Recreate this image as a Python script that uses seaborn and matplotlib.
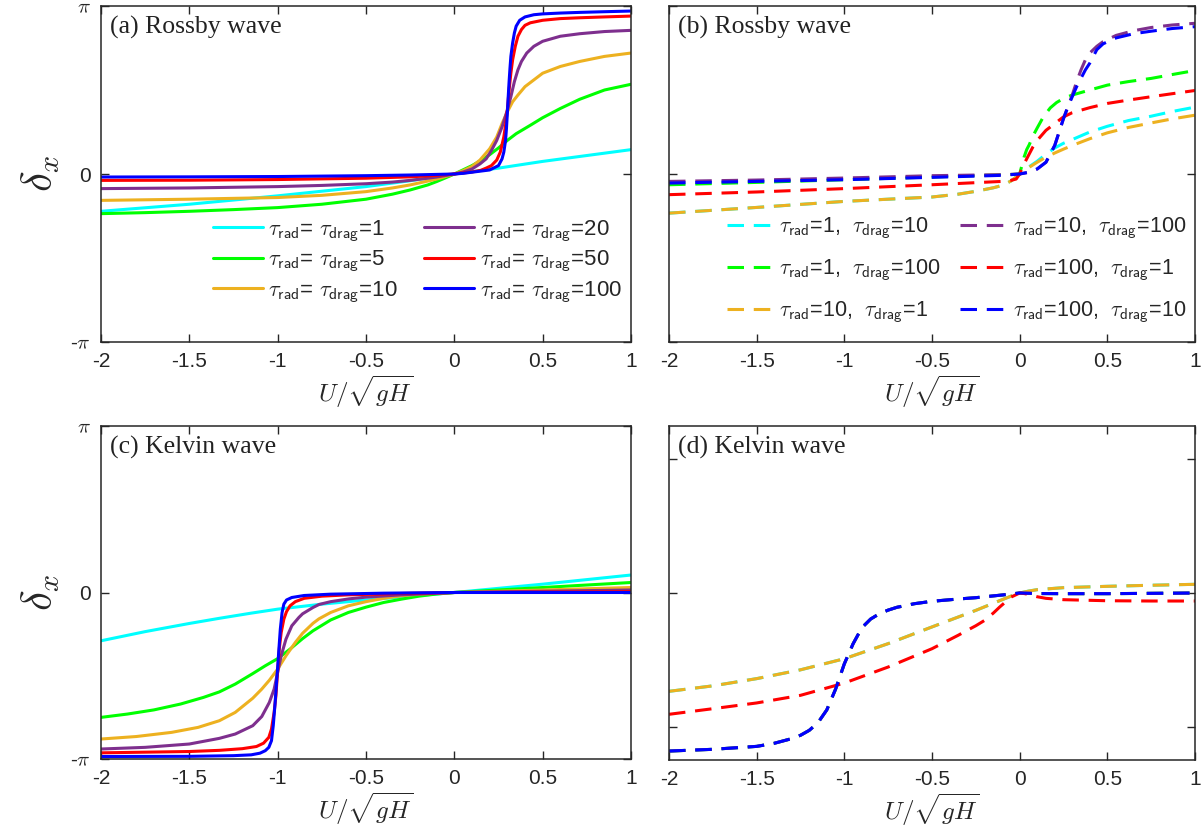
import numpy as np
import matplotlib
matplotlib.use("Agg")
import matplotlib.pyplot as plt
import seaborn as sns

# ---------------- data (phase delta_x in units of pi) ----------------
# Panel (a): Rossby wave, tau_rad = tau_drag
xa_1 = [-2, -1.5, -1, -0.5, -0.25, 0, 0.25, 0.5, 0.75, 1]
ya_1 = [-0.222, -0.18, -0.13, -0.075, -0.04, 0, 0.035, 0.075, 0.11, 0.145]
xa_5 = [-2, -1.75, -1.5, -1.25, -1, -0.75, -0.5, -0.35, -0.25, -0.15, -0.1, -0.05, 0,
        0.05, 0.1, 0.15, 0.2, 0.25, 0.3, 0.35, 0.43, 0.5, 0.6, 0.71, 0.85, 1]
ya_5 = [-0.236, -0.23, -0.222, -0.212, -0.2, -0.18, -0.15, -0.12, -0.095, -0.065, -0.045, -0.023, 0,
        0.025, 0.05, 0.08, 0.115, 0.155, 0.2, 0.24, 0.29, 0.335, 0.39, 0.445, 0.5, 0.534]
xa_10 = [-2, -1.5, -1, -0.75, -0.5, -0.35, -0.25, -0.15, -0.1, -0.05, 0,
         0.05, 0.1, 0.145, 0.2, 0.24, 0.27, 0.3, 0.33, 0.36, 0.4, 0.45, 0.5, 0.6, 0.71, 0.85, 1]
ya_10 = [-0.157, -0.15, -0.14, -0.127, -0.105, -0.083, -0.065, -0.042, -0.03, -0.015, 0,
         0.02, 0.045, 0.083, 0.15, 0.22, 0.3, 0.37, 0.43, 0.47, 0.52, 0.56, 0.6, 0.64, 0.67, 0.70, 0.72]
xa_20 = [-2, -1.5, -1, -0.75, -0.5, -0.35, -0.25, -0.15, -0.1, -0.05, 0,
         0.05, 0.1, 0.145, 0.18, 0.21, 0.24, 0.27, 0.3, 0.32, 0.34, 0.36, 0.38, 0.41, 0.45, 0.5, 0.6, 0.71, 0.85, 1]
ya_20 = [-0.087, -0.083, -0.075, -0.068, -0.058, -0.048, -0.038, -0.025, -0.018, -0.009, 0,
         0.012, 0.03, 0.06, 0.09, 0.14, 0.2, 0.28, 0.38, 0.46, 0.55, 0.62, 0.67, 0.72, 0.76, 0.79, 0.82, 0.835, 0.848, 0.855]
xa_50 = [-2, -1.5, -1, -0.5, -0.25, -0.1, 0, 0.1, 0.15, 0.18, 0.21, 0.24, 0.26, 0.28, 0.29, 0.3,
         0.31, 0.32, 0.33, 0.345, 0.36, 0.38, 0.4, 0.43, 0.5, 0.6, 0.71, 0.85, 1]
ya_50 = [-0.038, -0.037, -0.033, -0.025, -0.017, -0.008, 0, 0.012, 0.022, 0.035, 0.05, 0.083, 0.13, 0.22, 0.29, 0.38,
         0.5, 0.6, 0.68, 0.76, 0.82, 0.86, 0.885, 0.9, 0.915, 0.925, 0.93, 0.935, 0.94]
xa_100 = [-2, -1.5, -1, -0.5, -0.25, 0, 0.05, 0.2, 0.25, 0.27, 0.28, 0.29, 0.295, 0.3, 0.305, 0.31,
          0.315, 0.32, 0.33, 0.34, 0.35, 0.37, 0.4, 0.45, 0.5, 0.6, 0.71, 0.85, 1]
ya_100 = [-0.018, -0.017, -0.015, -0.01, -0.006, 0, 0.004, 0.024, 0.05, 0.09, 0.13, 0.2, 0.27, 0.36, 0.46, 0.55,
          0.63, 0.7, 0.78, 0.84, 0.88, 0.915, 0.935, 0.948, 0.953, 0.958, 0.962, 0.966, 0.97]

# Panel (b): Rossby wave, tau_rad != tau_drag
xb_c = [-2, -1.75, -1.5, -1.25, -1, -0.75, -0.5, -0.35, -0.25, -0.15, -0.1, -0.05, -0.02, 0,
        0.05, 0.1, 0.15, 0.2, 0.25, 0.3, 0.4, 0.5, 0.62, 0.75, 0.87, 1]
yb_c = [-0.233, -0.216, -0.199, -0.181, -0.163, -0.15, -0.137, -0.12, -0.103, -0.082, -0.068, -0.042, -0.018, 0,
        0.04, 0.076, 0.118, 0.155, 0.183, 0.205, 0.25, 0.284, 0.318, 0.344, 0.372, 0.398]
xb_g = [-2, -1.5, -1, -0.5, -0.2, -0.05, 0, 0.01, 0.025, 0.04, 0.055, 0.075, 0.1, 0.135, 0.175, 0.21,
        0.25, 0.3, 0.4, 0.5, 0.62, 0.75, 0.87, 1]
yb_g = [-0.064, -0.05, -0.034, -0.018, -0.008, -0.003, 0, 0.04, 0.1, 0.145, 0.175, 0.225, 0.274, 0.34, 0.394, 0.425,
        0.45, 0.47, 0.5, 0.529, 0.55, 0.569, 0.592, 0.616]
xb_o = [-2, -1.75, -1.5, -1.25, -1, -0.75, -0.5, -0.35, -0.25, -0.15, -0.1, -0.05, -0.02, 0,
        0.05, 0.1, 0.15, 0.2, 0.25, 0.3, 0.4, 0.5, 0.62, 0.75, 0.87, 1]
yb_o = [-0.233, -0.216, -0.199, -0.181, -0.163, -0.15, -0.137, -0.12, -0.103, -0.082, -0.068, -0.042, -0.018, 0,
        0.037, 0.07, 0.1, 0.125, 0.148, 0.17, 0.21, 0.245, 0.277, 0.304, 0.328, 0.35]
xb_p = [-2, -1.5, -1, -0.5, -0.1, 0, 0.05, 0.1, 0.15, 0.2, 0.225, 0.25, 0.275, 0.3, 0.325, 0.35, 0.375,
        0.4, 0.44, 0.476, 0.55, 0.65, 0.75, 0.87, 1]
yb_p = [-0.044, -0.036, -0.024, -0.01, -0.004, 0, 0.01, 0.03, 0.07, 0.17, 0.25, 0.33, 0.4, 0.47, 0.55, 0.62, 0.68,
        0.72, 0.76, 0.788, 0.825, 0.853, 0.872, 0.887, 0.897]
xb_r = [-2, -1.5, -1, -0.5, -0.1, -0.05, -0.02, 0, 0.02, 0.05, 0.075, 0.1, 0.15, 0.2, 0.25, 0.3, 0.4,
        0.5, 0.62, 0.75, 0.87, 1]
yb_r = [-0.123, -0.107, -0.087, -0.064, -0.044, -0.038, -0.03, 0, 0.05, 0.11, 0.16, 0.2, 0.26, 0.3, 0.34, 0.365, 0.395,
        0.42, 0.44, 0.46, 0.478, 0.497]
xb_b = [-2, -1.5, -1, -0.5, -0.1, 0, 0.05, 0.1, 0.15, 0.2, 0.225, 0.25, 0.275, 0.3, 0.325, 0.35, 0.375,
        0.4, 0.44, 0.476, 0.55, 0.65, 0.75, 0.87, 1]
yb_b = [-0.054, -0.044, -0.034, -0.02, -0.008, 0, 0.01, 0.03, 0.07, 0.17, 0.25, 0.33, 0.4, 0.46, 0.52, 0.57, 0.62,
        0.66, 0.74, 0.775, 0.81, 0.835, 0.85, 0.866, 0.877]

# Panel (c): Kelvin wave, tau_rad = tau_drag
xc_1 = [-2, -1.75, -1.5, -1.33, -1.15, -1, -0.75, -0.5, -0.25, 0, 0.5, 1]
yc_1 = [-0.29, -0.235, -0.186, -0.155, -0.124, -0.1, -0.07, -0.045, -0.022, 0, 0.05, 0.105]
xc_5 = [-2, -1.85, -1.7, -1.55, -1.42, -1.33, -1.24, -1.141, -1.07, -1, -0.93, -0.859, -0.8, -0.7,
        -0.6, -0.5, -0.4, -0.3, -0.2, -0.1, 0, 0.25, 0.5, 0.75, 1]
yc_5 = [-0.75, -0.73, -0.705, -0.67, -0.63, -0.597, -0.55, -0.487, -0.44, -0.397, -0.34, -0.277, -0.23, -0.165,
        -0.12, -0.088, -0.06, -0.04, -0.022, -0.009, 0, 0.015, 0.03, 0.045, 0.06]
xc_10 = [-2, -1.8, -1.6, -1.45, -1.33, -1.24, -1.141, -1.09, -1.047, -1, -0.953, -0.9, -0.859, -0.8,
         -0.766, -0.7, -0.6, -0.5, -0.4, -0.3, -0.2, 0, 0.5, 1]
yc_10 = [-0.88, -0.865, -0.84, -0.81, -0.77, -0.72, -0.635, -0.58, -0.527, -0.46, -0.38, -0.3, -0.245, -0.185,
         -0.158, -0.12, -0.08, -0.055, -0.035, -0.02, -0.01, 0, 0.015, 0.03]
xc_20 = [-2, -1.75, -1.5, -1.33, -1.24, -1.141, -1.09, -1.047, -1.02, -1, -0.98, -0.953, -0.92, -0.88,
         -0.859, -0.8, -0.766, -0.7, -0.595, -0.5, -0.3, 0, 1]
yc_20 = [-0.94, -0.93, -0.91, -0.876, -0.85, -0.80, -0.745, -0.66, -0.58, -0.48, -0.38, -0.28, -0.2, -0.15,
         -0.128, -0.09, -0.072, -0.055, -0.038, -0.028, -0.014, 0, 0.015]
xc_50 = [-2, -1.5, -1.33, -1.2, -1.12, -1.08, -1.05, -1.035, -1.02, -1.01, -1, -0.99, -0.98, -0.965,
         -0.95, -0.93, -0.9, -0.85, -0.75, -0.6, -0.3, 0, 1]
yc_50 = [-0.963, -0.955, -0.948, -0.938, -0.925, -0.905, -0.87, -0.82, -0.72, -0.62, -0.47, -0.33, -0.24, -0.16,
         -0.115, -0.08, -0.055, -0.035, -0.022, -0.014, -0.006, 0, 0.005]
xc_100 = [-2, -1.5, -1.25, -1.15, -1.1, -1.07, -1.05, -1.035, -1.025, -1.015, -1.007, -1, -0.993, -0.985,
          -0.975, -0.965, -0.95, -0.92, -0.85, -0.7, -0.4, 0, 1]
yc_100 = [-0.985, -0.984, -0.98, -0.975, -0.965, -0.95, -0.93, -0.89, -0.8, -0.67, -0.55, -0.45, -0.34, -0.22,
          -0.12, -0.07, -0.045, -0.03, -0.018, -0.01, -0.004, 0, 0]

# Panel (d): Kelvin wave, tau_rad != tau_drag
xd_o = [-2, -1.75, -1.5, -1.25, -1, -0.75, -0.5, -0.25, -0.1, -0.05, 0, 0.05, 0.1, 0.25, 0.5, 0.75, 1]
yd_o = [-0.736, -0.695, -0.641, -0.575, -0.492, -0.379, -0.254, -0.13, -0.05, -0.024, 0, 0.014, 0.025, 0.04, 0.05, 0.058, 0.065]
xd_r = [-2, -1.75, -1.5, -1.25, -1, -0.75, -0.5, -0.35, -0.3, -0.25, -0.2, -0.15, -0.114, -0.048, 0, 0.03,
        0.07, 0.1, 0.15, 0.25, 0.5, 0.75, 1]
yd_r = [-0.908, -0.866, -0.823, -0.766, -0.674, -0.554, -0.417, -0.316, -0.28, -0.245, -0.205, -0.15, -0.105, -0.03, 0, -0.005,
        -0.018, -0.028, -0.04, -0.05, -0.058, -0.06, -0.06]
xd_b = [-2, -1.75, -1.5, -1.4, -1.3, -1.25, -1.2, -1.15, -1.1, -1.05, -1.0, -0.95, -0.9, -0.85, -0.8, -0.75,
        -0.7, -0.6, -0.5, -0.35, -0.25, -0.1, 0, 0.1, 0.25, 0.5, 1]
yd_b = [-1.183, -1.17, -1.148, -1.125, -1.09, -1.065, -1.028, -0.97, -0.875, -0.72, -0.53, -0.38, -0.26, -0.195, -0.155, -0.128,
        -0.107, -0.08, -0.062, -0.045, -0.035, -0.015, 0, -0.004, -0.005, -0.005, 0]

colors = ["#00FFFF", "#00FF00", "#EDB120", "#7E2F8E", "#FF0000", "#0000FF"]
labels_a = [r"$\tau_{\mathsf{rad}}$= $\tau_{\mathsf{drag}}$=" + v for v in ["1", "5", "10", "20", "50", "100"]]
labels_b = [r"$\tau_{\mathsf{rad}}$=1,  $\tau_{\mathsf{drag}}$=10",
            r"$\tau_{\mathsf{rad}}$=1,  $\tau_{\mathsf{drag}}$=100",
            r"$\tau_{\mathsf{rad}}$=10,  $\tau_{\mathsf{drag}}$=1",
            r"$\tau_{\mathsf{rad}}$=10,  $\tau_{\mathsf{drag}}$=100",
            r"$\tau_{\mathsf{rad}}$=100,  $\tau_{\mathsf{drag}}$=1",
            r"$\tau_{\mathsf{rad}}$=100,  $\tau_{\mathsf{drag}}$=10"]
titles = ["(a) Rossby wave", "(b) Rossby wave", "(c) Kelvin wave", "(d) Kelvin wave"]
xticks = [-2, -1.5, -1, -0.5, 0, 0.5, 1]
xticklabels = ["-2", "-1.5", "-1", "-0.5", "0", "0.5", "1"]

# ---------------- style ----------------
sns.set_theme(style="ticks")
plt.rcParams["font.family"] = ["Liberation Sans", "DejaVu Sans"]
plt.rcParams["mathtext.fontset"] = "cm"
plt.rcParams["axes.unicode_minus"] = False

fig = plt.figure(figsize=(12.02, 8.33), dpi=100)
W, H = 1202, 833
def add_ax(l, r, t, b):
    return fig.add_axes([l / W, 1 - b / H, (r - l) / W, (b - t) / H])

ax_a = add_ax(101, 631, 6, 342)
ax_b = add_ax(669, 1195, 6, 342)
ax_c = add_ax(101, 631, 426, 759)
ax_d = add_ax(669, 1195, 426, 760)

LW = 2.2
DASH = (0, (5.4, 3.2))

def draw(ax, xs, ys, color, label, ls="-"):
    sns.lineplot(x=np.array(xs, dtype=float), y=np.array(ys, dtype=float) * np.pi, ax=ax,
                 color=color, linewidth=LW, linestyle=ls, estimator=None, sort=False,
                 legend=False, label=label)

draw(ax_a, xa_1, ya_1, colors[0], labels_a[0])
draw(ax_a, xa_5, ya_5, colors[1], labels_a[1])
draw(ax_a, xa_10, ya_10, colors[2], labels_a[2])
draw(ax_a, xa_20, ya_20, colors[3], labels_a[3])
draw(ax_a, xa_50, ya_50, colors[4], labels_a[4])
draw(ax_a, xa_100, ya_100, colors[5], labels_a[5])

draw(ax_b, xb_c, yb_c, colors[0], labels_b[0], DASH)
draw(ax_b, xb_g, yb_g, colors[1], labels_b[1], DASH)
draw(ax_b, xb_o, yb_o, colors[2], labels_b[2], DASH)
draw(ax_b, xb_p, yb_p, colors[3], labels_b[3], DASH)
draw(ax_b, xb_r, yb_r, colors[4], labels_b[4], DASH)
draw(ax_b, xb_b, yb_b, colors[5], labels_b[5], DASH)

draw(ax_c, xc_1, yc_1, colors[0], None)
draw(ax_c, xc_5, yc_5, colors[1], None)
draw(ax_c, xc_10, yc_10, colors[2], None)
draw(ax_c, xc_20, yc_20, colors[3], None)
draw(ax_c, xc_50, yc_50, colors[4], None)
draw(ax_c, xc_100, yc_100, colors[5], None)

# (d): cyan lies under orange; green and purple lie under blue
draw(ax_d, xd_o, yd_o, colors[0], None, DASH)
draw(ax_d, xd_b, yd_b, colors[1], None, DASH)
draw(ax_d, xd_o, yd_o, colors[2], None, DASH)
draw(ax_d, xd_b, yd_b, colors[3], None, DASH)
draw(ax_d, xd_r, yd_r, colors[4], None, DASH)
draw(ax_d, xd_b, yd_b, colors[5], None, DASH)

for ax, ttl in zip([ax_a, ax_b, ax_c, ax_d], titles):
    ax.set_xlim(-2, 1)
    ax.set_xticks(xticks)
    ax.set_xticklabels(xticklabels)
    ax.tick_params(direction="in", top=True, right=True, length=6, width=1,
                   labelsize=15, color="#262626", labelcolor="#262626", pad=7)
    for s in ax.spines.values():
        s.set_color("#262626")
        s.set_linewidth(1.1)
        s.set_visible(True)
    ax.set_xlabel(r"$U/\sqrt{gH}$", fontsize=18, labelpad=2, color="#262626")
    ax.set_ylabel("")
    ax.text(0.017, 0.935, ttl, transform=ax.transAxes, fontsize=18.5,
            family="Liberation Serif", va="center", ha="left", color="#222222")
    ax.grid(False)
    ax.set_facecolor("white")

for ax in [ax_a, ax_b, ax_c]:
    ax.set_ylim(-np.pi, np.pi)
    ax.set_yticks([-np.pi, 0, np.pi])
ax_d.set_ylim(-1.25 * np.pi, 1.25 * np.pi)
ax_d.set_yticks([-np.pi, 0, np.pi])

for ax in [ax_a, ax_c]:
    ax.set_yticklabels([r"-$\pi$", "0", r"$\pi$"])
    ax.set_ylabel(r"$\delta_x$", fontsize=31, labelpad=6)
for ax in [ax_b, ax_d]:
    ax.set_yticklabels(["", "", ""])

ax_a.legend(loc="lower right", bbox_to_anchor=(1.0, 0.085), ncol=2, frameon=False,
            fontsize=16, handlelength=2.25, columnspacing=1.2, labelspacing=0.2,
            handletextpad=0.25, borderaxespad=0.0)
ax_b.legend(loc="lower right", bbox_to_anchor=(1.0, 0.025), ncol=2, frameon=False,
            fontsize=15.5, handlelength=2.3, columnspacing=0.9, labelspacing=0.75,
            handletextpad=0.15, borderaxespad=0.0)

fig.savefig("out.png", dpi=100, facecolor="white")
